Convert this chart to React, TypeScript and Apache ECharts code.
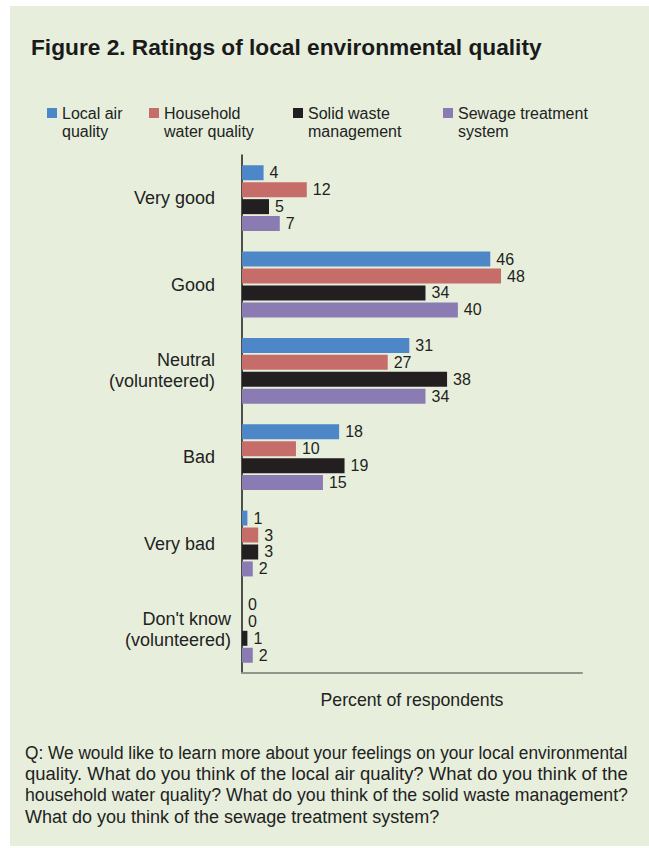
import React, { useEffect, useRef } from "react";
import * as echarts from "echarts";

const categories = [
  "Very good",
  "Good",
  "Neutral\n(volunteered)",
  "Bad",
  "Very bad",
  "Don't know\n(volunteered)",
];
const seriesNames = [
  "Local air quality",
  "Household water quality",
  "Solid waste management",
  "Sewage treatment system",
];
const legendLabels = [
  "Local air\nquality",
  "Household\nwater quality",
  "Solid waste\nmanagement",
  "Sewage treatment\nsystem",
];
const airQuality = [4, 46, 31, 18, 1, 0];
const waterQuality = [12, 48, 27, 10, 3, 0];
const solidWaste = [5, 34, 38, 19, 3, 1];
const sewageTreatment = [7, 40, 34, 15, 2, 2];
const seriesValues = [airQuality, waterQuality, solidWaste, sewageTreatment];
const seriesColors = ["#4d87c7", "#c66c69", "#231f20", "#8a7cb2"];

const titleText = "Figure 2. Ratings of local environmental quality";
const axisTitle = "Percent of respondents";
const noteLines = [
  "Q: We would like to learn more about your feelings on your local environmental",
  "quality. What do you think of the local air quality? What do you think of the",
  "household water quality? What do you think of the solid waste management?",
  "What do you think of the sewage treatment system?",
];

const FONT = "'Liberation Sans', Arial, Helvetica, sans-serif";

function measure(text: string, size: number): number {
  const c = document.createElement("canvas");
  const ctx = c.getContext("2d");
  if (!ctx) return text.length * size * 0.5;
  ctx.font = `${size}px 'Liberation Sans', Arial, sans-serif`;
  return ctx.measureText(text).width;
}

export default function App() {
  const ref = useRef<HTMLDivElement>(null);
  useEffect(() => {
    if (!ref.current) return;
    const chart = echarts.init(ref.current, undefined, { renderer: "svg" });
    const legendX = [47, 149, 293, 443];
    const noteSize = 18;
    const noteTarget = 603;
    const noteY = [753, 774, 795, 817];
    const noteGraphics = noteLines.map((line, i) => {
      const w = measure(line, noteSize);
      const s = i < noteLines.length - 1 ? noteTarget / w : 1;
      return {
        type: "text",
        x: 25,
        y: noteY[i],
        scaleX: s,
        style: {
          text: line,
          x: 0,
          y: 0,
          fill: "#222",
          font: `${noteSize}px ${FONT}`,
          verticalAlign: "middle",
        },
      };
    });
    chart.setOption({
      animation: false,
      backgroundColor: "#ffffff",
      textStyle: { fontFamily: FONT },
      title: {
        text: titleText,
        left: 31,
        top: 35,
        padding: 0,
        textStyle: { fontSize: 22.7, fontWeight: "bold", color: "#1a1a1a", fontFamily: FONT },
      },
      legend: seriesNames.map((n, i) => ({
        data: [n],
        left: legendX[i],
        top: 86,
        padding: 0,
        itemWidth: 10,
        itemHeight: 10,
        icon: "rect",
        selectedMode: false,
        formatter: () => "\n" + legendLabels[i],
        textStyle: {
          fontSize: 16,
          lineHeight: 18,
          color: "#222",
          fontFamily: FONT,
        },
      })),
      grid: { left: 242, top: 155, width: 340, height: 518 },
      xAxis: {
        type: "value",
        min: 0,
        max: 63,
        axisLine: { show: true, lineStyle: { color: "#8f968b", width: 2 } },
        axisTick: { show: false },
        axisLabel: { show: false },
        splitLine: { show: false },
        name: axisTitle,
        nameLocation: "middle",
        nameGap: 18,
        nameTextStyle: { fontSize: 17.7, color: "#222", fontFamily: FONT },
      },
      yAxis: {
        type: "category",
        inverse: true,
        data: categories.map((c) =>
          c.startsWith("Don't")
            ? { value: c, textStyle: { padding: [0, -16, 0, 0] } }
            : c
        ),
        axisLine: { show: true, lineStyle: { color: "#1a1a1a", width: 1.5 } },
        axisTick: { show: false },
        axisLabel: {
          margin: 27,
          fontSize: 18,
          lineHeight: 21,
          color: "#222",
          fontFamily: FONT,
        },
      },
      series: seriesNames.map((n, i) => ({
        name: n,
        type: "bar",
        data: seriesValues[i],
        barWidth: 15,
        barGap: "13%",
        itemStyle: { color: seriesColors[i] },
        label: {
          show: true,
          position: "right",
          distance: 6,
          fontSize: 16,
          color: "#231f20",
          fontFamily: FONT,
        },
      })),
      graphic: [
        {
          type: "rect",
          z: -10,
          shape: { x: 10, y: 6, width: 639, height: 840 },
          style: { fill: "#e7efdc" },
        },
        ...noteGraphics,
      ],
    });
    return () => chart.dispose();
  }, []);
  return (
    <div
      ref={ref}
      style={{ position: "absolute", left: 0, top: 0, width: 649, height: 848 }}
    />
  );
}
